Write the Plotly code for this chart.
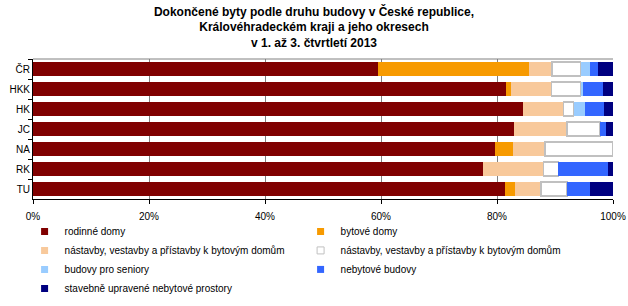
import plotly.graph_objects as go

categories = ["ČR", "HKK", "HK", "JC", "NA", "RK", "TU"]
series_names = [
    "rodinné domy",
    "bytové domy",
    "nástavby, vestavby a přístavby k bytovým domům",
    "nástavby, vestavby a přístavby k bytovým domům",
    "budovy pro seniory",
    "nebytové budovy",
    "stavebně upravené nebytové prostory",
]
rodinne = [59.5, 81.6, 84.5, 82.9, 79.7, 77.6, 81.4]
bytove = [26.0, 0.8, 0.0, 0.0, 3.1, 0.0, 1.7]
nastavby_byt = [4.0, 7.0, 7.0, 9.2, 5.5, 10.4, 4.5]
nastavby_neb = [4.9, 5.0, 1.7, 5.7, 11.7, 2.6, 4.5]
seniori = [1.6, 0.4, 2.0, 0.0, 0.0, 0.0, 0.0]
nebytove = [1.4, 3.5, 3.2, 1.0, 0.0, 8.5, 3.9]
upravene = [2.6, 1.7, 1.6, 1.2, 0.0, 0.9, 4.0]
x_ticks = [0, 20, 40, 60, 80, 100]
x_ticklabels = ["0%", "20%", "40%", "60%", "80%", "100%"]

series_values = [rodinne, bytove, nastavby_byt, nastavby_neb, seniori, nebytove, upravene]
colors = ["#800000", "#F79A00", "#F8C99B", "#FFFFFF", "#99CCFF", "#3366FF", "#000080"]
lines = [None, None, None, "#C0C0C0", None, None, None]

font_family = "Liberation Sans, Arial, sans-serif"
fig = go.Figure()
for i, (name, vals, col, lc) in enumerate(zip(series_names, series_values, colors, lines)):
    fig.add_trace(go.Bar(
        y=categories, x=vals, orientation="h", name=name,
        marker=dict(color=col, line=dict(color=lc if lc else col, width=1.5 if lc else 0)),
        legendgroup=f"g{i}", showlegend=False,
    ))
    fig.add_trace(go.Scatter(
        x=[None], y=[None], mode="markers", name=name, legendgroup=f"g{i}",
        marker=dict(symbol="square", size=7, color=col,
                    line=dict(color=lc if lc else col, width=1 if lc else 0)),
        showlegend=True,
    ))

fig.update_layout(
    width=628, height=306,
    margin=dict(l=33, r=15, t=59, b=107, autoexpand=False),
    paper_bgcolor="white", plot_bgcolor="white",
    barmode="stack", bargap=0.3,
    font=dict(family=font_family, size=10, color="black"),
    title=dict(
        text="<b>Dokončené byty podle druhu budovy v České republice,<br>Královéhradeckém kraji a jeho okresech<br>v 1. až 3. čtvrtletí 2013</b>",
        x=0.5, xanchor="center", y=0.949, yanchor="top",
        font=dict(size=12, family=font_family),
    ),
    xaxis=dict(
        range=[0, 100], tickvals=x_ticks, ticktext=x_ticklabels,
        showgrid=True, gridcolor="#808080", gridwidth=1,
        showline=True, linecolor="black", linewidth=1,
        ticks="outside", ticklen=4, tickcolor="black", zeroline=False,
        ticklabelstandoff=4, fixedrange=True, automargin=False,
    ),
    yaxis=dict(
        autorange="reversed", showline=True, linecolor="black", linewidth=1,
        ticks="outside", ticklen=4, tickcolor="black", tickson="boundaries",
        showgrid=False, fixedrange=True, automargin=False,
    ),
    showlegend=True,
    legend=dict(
        orientation="h", x=-0.0145, xanchor="left", y=-0.128, yanchor="top",
        entrywidth=231, entrywidthmode="pixels", itemwidth=30,
        font=dict(size=10, family=font_family), bgcolor="rgba(0,0,0,0)",
        traceorder="normal",
    ),
    shapes=[dict(type="line", xref="paper", yref="paper", x0=0, x1=1, y0=1, y1=1,
                 line=dict(color="#808080", width=1))],
)

fig.write_html("out.html")
